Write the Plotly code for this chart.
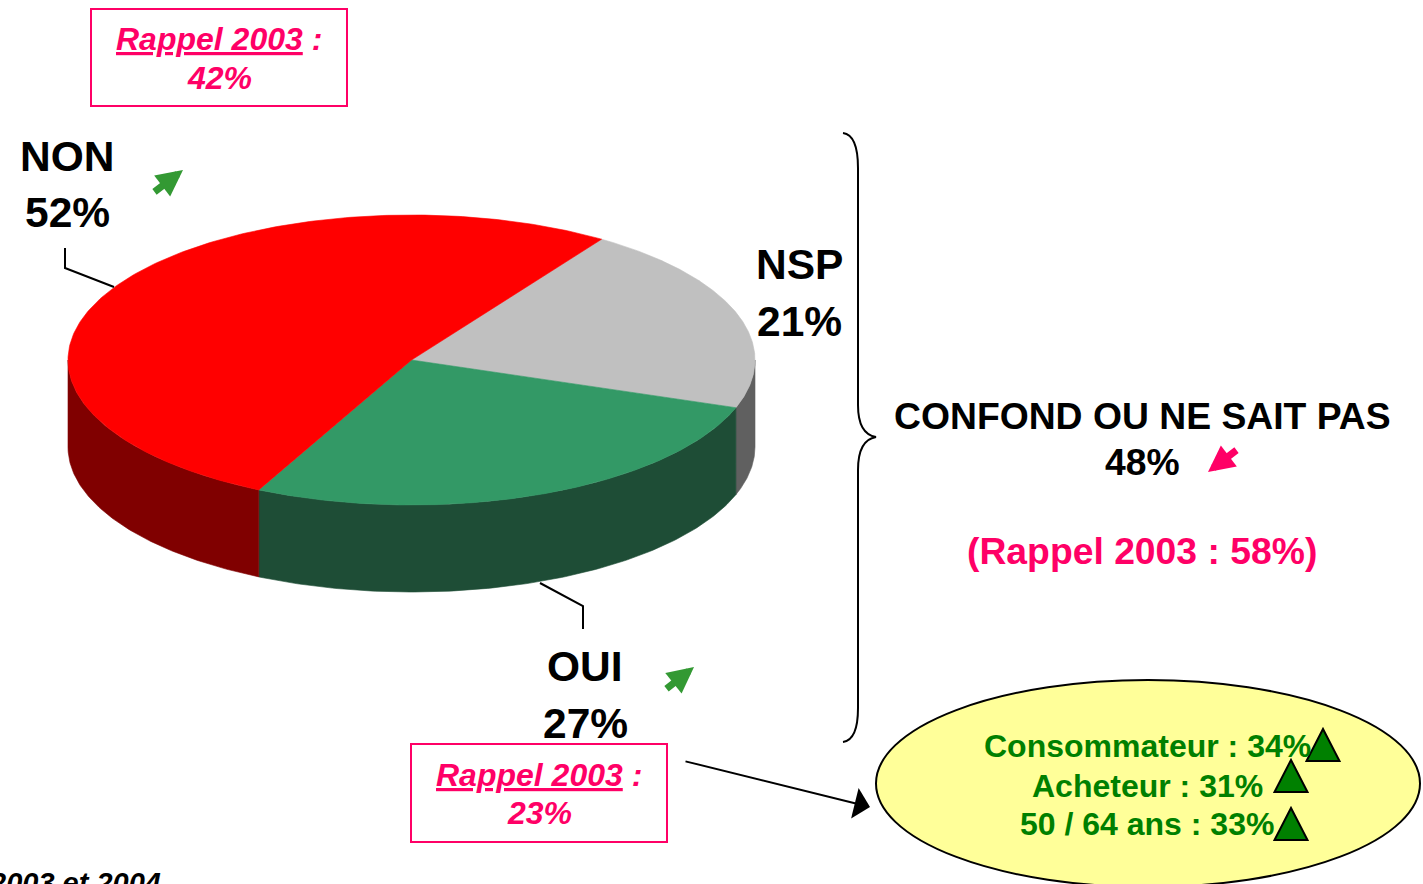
import numpy as np
import plotly.graph_objects as go

# ---------------- data ----------------
labels = ["NSP", "OUI", "NON"]
values = [21, 27, 52]
top_colors = ["#C0C0C0", "#339966", "#FF0000"]
side_colors = ["#606060", "#1E4D36", "#800000"]

rappel_2003_non = 42
rappel_2003_oui = 23
confond_label = "CONFOND OU NE SAIT PAS"
confond_value = 48
confond_2003 = 58
sub_labels = ["Consommateur", "Acheteur", "50 / 64 ans"]
sub_values = [34, 31, 33]
footer = "2003 et 2004"

# ---------------- layout constants ----------------
W, H = 1423, 884
CX, CY, RX, RY, DEPTH = 411.5, 360, 343.5, 145, 87
START = 56.4
FONT = "Arial, 'Liberation Sans', sans-serif"
PINK = "#FF0066"
GREEN_TXT = "#008000"
GREEN_ARR = "#339933"


def ell(t_deg, dy=0.0):
    t = np.radians(t_deg)
    return CX + RX * np.cos(t), CY - RY * np.sin(t) + dy


fig = go.Figure()
total = sum(values)
bounds = []
a = START
for v in values:
    span = 360.0 * v / total
    bounds.append((a - span, a))
    a -= span

# side walls (front half only)
for (t0, t1), col in zip(bounds, side_colors):
    for k in (-360, 0, 360):
        lo = max(t0 + k, -180)
        hi = min(t1 + k, 0)
        if hi > lo:
            ts = np.linspace(lo, hi, 120)
            xt, yt = ell(ts)
            xb, yb = ell(ts[::-1], DEPTH)
            fig.add_trace(go.Scatter(
                x=np.concatenate([xt, xb, xt[:1]]),
                y=np.concatenate([yt, yb, yt[:1]]),
                fill="toself", fillcolor=col, mode="lines",
                line=dict(width=0.6, color=col), hoverinfo="skip"))

# top faces
for (t0, t1), col, lab, v in zip(bounds, top_colors, labels, values):
    ts = np.linspace(t0, t1, 240)
    x, y = ell(ts)
    fig.add_trace(go.Scatter(
        x=np.concatenate([[CX], x, [CX]]),
        y=np.concatenate([[CY], y, [CY]]),
        fill="toself", fillcolor=col, mode="lines",
        line=dict(width=0.6, color=col), name=lab,
        hovertemplate=f"{lab}: {v}%<extra></extra>"))

ann = []


def txt(x, y, s, size, color="black", xanchor="center"):
    ann.append(dict(x=x, y=y, xref="x", yref="y", text=s, showarrow=False,
                    xanchor=xanchor, yanchor="middle",
                    font=dict(family=FONT, size=size, color=color)))


def arrow(x, y, ax, ay, color, width, size, head):
    ann.append(dict(x=x, y=y, xref="x", yref="y", ax=ax, ay=ay,
                    axref="x", ayref="y", text="", showarrow=True,
                    arrowhead=head, arrowwidth=width, arrowsize=size,
                    arrowcolor=color))


lab_val = dict(zip(labels, values))
# pie labels
txt(67, 156, "<b>NON</b>", 42.5)
txt(67, 212, f"<b>{lab_val['NON']}%</b>", 42.5)
txt(799, 264, "<b>NSP</b>", 42.5)
txt(799, 321, f"<b>{lab_val['NSP']}%</b>", 42.5)
txt(585, 666, "<b>OUI</b>", 42.5)
txt(585, 723, f"<b>{lab_val['OUI']}%</b>", 42.5)

# Rappel boxes
txt(219, 39, "<b><i><u>Rappel 2003</u> :</i></b>", 32, PINK)
txt(219, 78, f"<b><i>{rappel_2003_non}%</i></b>", 32, PINK)
txt(539, 775, "<b><i><u>Rappel 2003</u> :</i></b>", 32, PINK)
txt(539, 813, f"<b><i>{rappel_2003_oui}%</i></b>", 32, PINK)

# confond block
txt(1142, 416, f"<b>{confond_label}</b>", 37.3)
txt(1142, 462, f"<b>{confond_value}%</b>", 37.3)
txt(1142, 551, f"<b>(Rappel 2003 : {confond_2003}%)</b>", 37.3, PINK)

# ellipse texts
for (lab, v), yy in zip(zip(sub_labels, sub_values), [746, 786, 824]):
    txt(1147, yy, f"<b>{lab} : {v}%</b>", 32, GREEN_TXT)

# footer (cropped at the bottom edge, as in the reference)
txt(163, 883, f"<b><i>{footer}</i></b>", 29, "black", xanchor="right")

# arrows
arrow(183, 170, 153, 193, GREEN_ARR, 7, 0.75, 2)
arrow(694, 667, 665, 690, GREEN_ARR, 7, 0.75, 2)
arrow(1208, 472, 1238, 449, PINK, 7, 0.75, 2)
arrow(870, 807, 684, 761, "black", 2, 2.6, 1)

shapes = []
# Rappel boxes
shapes.append(dict(type="rect", xref="x", yref="y", x0=91, y0=9, x1=347, y1=106,
                   line=dict(color=PINK, width=2), fillcolor="rgba(0,0,0,0)"))
shapes.append(dict(type="rect", xref="x", yref="y", x0=411, y0=744, x1=667, y1=842,
                   line=dict(color=PINK, width=2), fillcolor="white", layer="below"))
# ellipse
shapes.append(dict(type="circle", xref="x", yref="y", x0=876, y0=680, x1=1420, y1=887,
                   line=dict(color="black", width=2), fillcolor="#FFFF99", layer="below"))
# leader lines
shapes.append(dict(type="path", xref="x", yref="y", path="M 65 248 L 65 268 L 114 287",
                   line=dict(color="black", width=2)))
shapes.append(dict(type="path", xref="x", yref="y", path="M 540 583 L 583 606 L 583 629",
                   line=dict(color="black", width=2)))
# brace
shapes.append(dict(type="path", xref="x", yref="y",
                   path="M 843 133 Q 858 135 858 168 L 858 405 Q 858 434 876 437 "
                        "Q 858 440 858 470 L 858 708 Q 858 740 843 742",
                   line=dict(color="black", width=2)))


def tri(cx, cy, s):
    h = s * 0.97
    return (f"M {cx - s/2} {cy + h/2} L {cx + s/2} {cy + h/2} "
            f"L {cx} {cy - h/2} Z")


for cx, cy in [(1323, 745), (1291, 776), (1291, 824)]:
    shapes.append(dict(type="path", xref="x", yref="y", path=tri(cx, cy, 33),
                       line=dict(color="black", width=2), fillcolor="#008000"))

fig.update_layout(
    width=W, height=H, margin=dict(l=0, r=0, t=0, b=0),
    paper_bgcolor="white", plot_bgcolor="white", showlegend=False,
    xaxis=dict(range=[0, W], visible=False, fixedrange=True),
    yaxis=dict(range=[H, 0], visible=False, fixedrange=True),
    annotations=ann, shapes=shapes,
)

fig.write_html(
    "out.html",
    config={"displayModeBar": False},
    post_script="document.body.style.margin='0';document.body.style.overflow='hidden';",
)
